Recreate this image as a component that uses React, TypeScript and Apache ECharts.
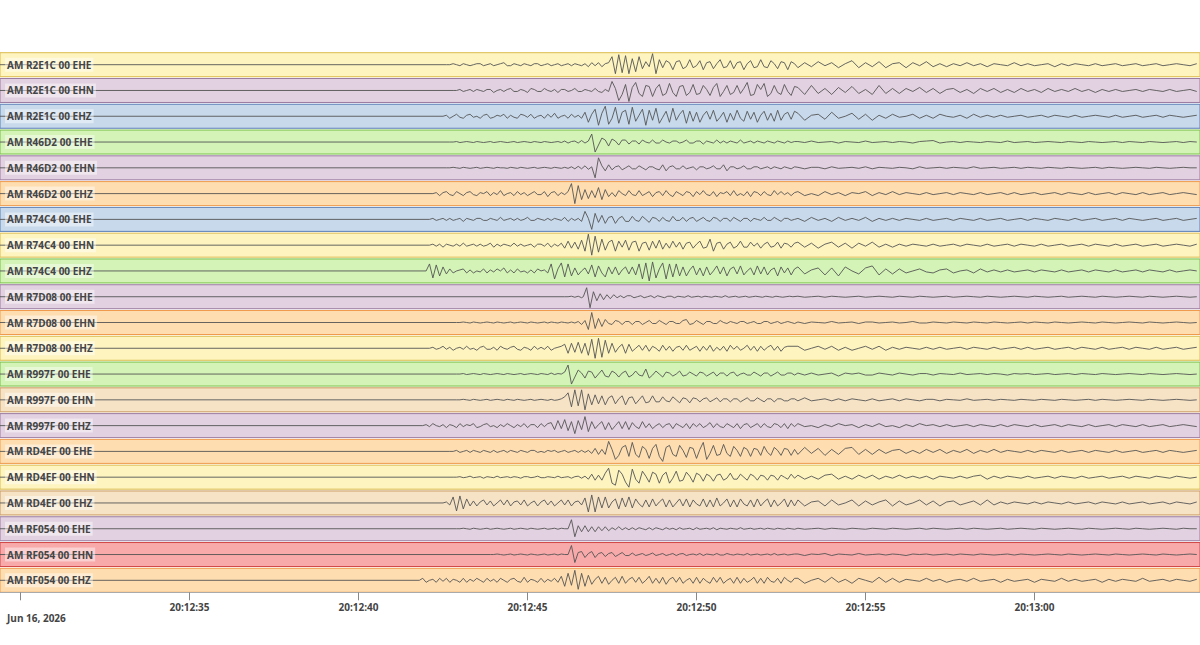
import { useEffect, useRef } from "react";
import * as echarts from "echarts";

// ---------- data ----------
const CHANNELS = [
  "AM R2E1C 00 EHE", "AM R2E1C 00 EHN", "AM R2E1C 00 EHZ",
  "AM R46D2 00 EHE", "AM R46D2 00 EHN", "AM R46D2 00 EHZ",
  "AM R74C4 00 EHE", "AM R74C4 00 EHN", "AM R74C4 00 EHZ",
  "AM R7D08 00 EHE", "AM R7D08 00 EHN", "AM R7D08 00 EHZ",
  "AM R997F 00 EHE", "AM R997F 00 EHN", "AM R997F 00 EHZ",
  "AM RD4EF 00 EHE", "AM RD4EF 00 EHN", "AM RD4EF 00 EHZ",
  "AM RF054 00 EHE", "AM RF054 00 EHN", "AM RF054 00 EHZ",
];

// seconds after 20:12:30
const ONSET = [12.7, 12.9, 12.6, 12.8, 12.7, 12.3, 12.2, 12.2, 12.1, 16.2, 13.0, 12.2, 13.0, 13.0, 12.0, 12.8, 12.9, 12.6, 13.0, 14.0, 11.9];
const ARRIVAL = [17.4, 17.4, 16.7, 16.8, 16.9, 16.2, 16.5, 16.0, 15.7, 16.65, 16.5, 16.1, 16.0, 15.9, 15.7, 16.8, 16.7, 16.7, 16.2, 16.2, 16.0];
const DT = 0.1;
const CODA_START = 23.0;
const CODA_DT = 0.2;

const X_MIN = -0.607;
const X_MAX = 34.896;
const TICK_SECONDS = [0, 5, 10, 15, 20, 25, 30];
const TICK_LABELS = ["", "20:12:35", "20:12:40", "20:12:45", "20:12:50", "20:12:55", "20:13:00"];
const DATE_LABEL = "Jun 16, 2026";

// 1 R2E1C EHE
const PRE_1 = [0,1,0,-1,1,0,-1,0,1,1,-1,0,1,-1,0,1,2,-1,-1,1,0,-1,1,0,-1,1,1,-1,0,1,-1,0,1,-1,0,1,-1,1,0,-1,1,-2,2,-1,2,-2,1];
const MAIN_1 = [2,8,-9,10,-8,9,-9,6,-7,8,-4,3,-2,11,-9,5,-3,4,2,-5,3,4,-4,-2,5,-3,-1,4,-5,2,3,-4,1,5,-3,-2,4,-4,2,3,-5,1,4,-3,-2,5,-2,-3,4,1,-4,3,2,-5,3,1];
const CODA_1 = [-3,2,-2,3,-1,2,-3,1,4,-3,2,-2,3,-3,1,2,-3,2,-1,3,-2,1,-2,1,-1,2,-1,1,-2,1,0,-1,2,-1,1,-1,0,1,-2,1,-1,1,0,-1,1,-1,0,1,-1,0,1,-1,0,1,-1,0,1,0,-1,1];
// 2 R2E1C EHN
const PRE_2 = [0,1,-1,0,1,-1,1,0,-1,1,1,-2,0,1,-1,1,2,-1,-1,1,0,-2,2,1,-1,-1,2,0,-1,1,-2,1,1,-1,0,2,-1,-1,1,0,-1,2,-1,-2,1];
const MAIN_2 = [-1,9,2,-10,-4,6,-11,3,8,-3,-6,5,4,-6,2,6,-5,-3,7,-2,-6,4,5,-5,-2,6,-4,-3,5,1,-5,3,7,-6,-1,5,-4,-2,5,-3,2,8,-5,-4,6,1,7,-6,-3,5,-2,-4,6,-1,-5,4];
const CODA_2 = [3,-4,5,-3,2,-4,3,-2,4,-3,1,-4,5,-3,2,-3,2,-1,3,-2,2,-3,1,2,-2,1,-3,2,-1,2,-2,1,-2,2,-1,1,-2,2,-1,1,-1,2,-1,1,-2,1,-1,1,-1,0,1,-1,1,0,-1,1,-1,0,1,-1];
// 3 R2E1C EHZ
const PRE_3 = [1,-2,0,2,-1,-2,1,2,-1,0,-2,1,2,-2,-1,1,0,2,-2,1,-1,-2,2,1,-1,2,-2,0,1,-2,2,-1,3,-2,0,1,-2,2,-1,1,-2];
const MAIN_3 = [4,-6,2,7,-9,3,10,-8,-2,9,-7,4,6,-8,9,-5,1,7,-9,6,-4,8,-7,-1,5,-6,8,-4,2,6,-7,5,-5,4,-6,1,5,-3,6,-5,-1,4,-6,3,-4,6,-2,-5,5,-3,4,-6,1,5,-4,3,-5,6,-4,2,4,-3,5];
const CODA_3 = [3,-4,1,2,-3,4,-2,0,3,-3,2,-4,1,-2,2,-1,0,2,-2,1,-2,2,0,-1,1,-2,2,-1,1,-1,1,-1,0,1,-1,0,1,-1,1,0,-1,1,-1,0,1,0,-1,1,-1,0,1,-1,0,1,-1,1,0,-1,0,1];
// 4 R46D2 EHE
const PRE_4 = [0,0.5,-0.5,0,0.5,0,-0.5,0.5,0,-0.5,0,0.5,-0.5,0,0.5,0,-0.5,0,0.5,-0.5,0,0.5,0,-0.5,0.5,0,-0.5,0.5,0,-0.5,0,0.5,-0.5,1,-1,0.5,1,-1,1.5,-1];
const MAIN_4 = [1,8,-10,-3,4,2,-4,3,1,-3,2,2,-2,1,1,-2,2,0,-1,2,-1,-1,2,0,-1,1,1,-1,0,2,-1,-1,1,1,-2,1,0,-1,2,-1,1,-1,1,0,-1,2,-1,0,1,-1,1,0,-1,1,0,-1,1,0,-1,1,-0.5,0.5];
const CODA_4 = [0.5,-0.5,1,-0.5,0,0.5,-1,0.5,0,-0.5,1,-0.5,0,0.5,-0.5,0.5,0,-1,0.5,1,1.5,-1,0,0.5,-0.5,0.5,0,-0.5,0.5,0,-0.5,1,-0.5,0,0.5,-0.5,0,0.5,0,-0.5,0.5,0,-0.5,0.5,0,-0.5,0,0.5,-0.5,0.5,0,-0.5,0.5,0,-0.5,0,0.5,-0.5,0.5,0];
// 5 R46D2 EHN
const PRE_5 = [0,0.5,0,-0.5,0.5,0,-0.5,0,0.5,-0.5,0,0.5,0,-0.5,0.5,0,0,-0.5,0.5,0,-0.5,0.5,0,-0.5,0,0.5,-0.5,0,0.5,0,-0.5,0.5,0,-0.5,0.5,-0.5,1,-1,1.5,-1,2,-1.5];
const MAIN_5 = [1,-10,10,2,-3,3,-2,1,2,-2,0,2,-1,-1,2,0,-2,1,1,-1,-2,3,-3,1,2,-1,-1,2,-1,0,1,-2,1,1,-1,0,2,-1,-1,3,-3,1,1,-1,0,2,-1,-1,1,1,-1,0,1,-1,1,0,-1,1,0,-1,1];
const CODA_5 = [0.5,-1,0.5,0.5,-1,1,-0.5,0,0.5,-0.5,1,-1,0.5,0,-0.5,0.5,0,-1,1,-0.5,0,0.5,-0.5,0.5,0,-0.5,1,-0.5,0,0.5,-0.5,0,0.5,-0.5,0.5,0,-0.5,0.5,0,-0.5,0.5,0,-0.5,0,0.5,-0.5,0.5,0,-0.5,0,0.5,0,-0.5,0.5,0,-0.5,0,0.5,0,0];
// 6 R46D2 EHZ
const PRE_6 = [1,-2,1,2,-1,-2,2,0,-2,1,2,-1,-2,1,0,2,-2,1,-1,3,-2,0,1,-2,2,-1,1,-2,0,2,-1,-1,2,-3,1,2,-2,1,-1];
const MAIN_6 = [2,10,-10,8,-6,4,-5,3,-4,6,-6,4,-3,1,-3,3,0,-2,3,-1,-2,3,-2,0,2,-3,1,2,-2,3,-1,-3,2,0,-2,2,1,-3,2,-1,3,-1,-2,2,-3,1,0,2,-2,3,-2,0,-2,2,-3,2,1,-2,2,-1,-2,3,-1,2,-1,1,-2,1];
const CODA_6 = [2,-2,0,-2,2,-1,1,-2,1,0,2,-2,1,-1,2,-1,1,0,-1,1,-1,0,1,-1,1,0,-1,1,-1,0,1,-1,1,-1,0,1,-1,0,1,-1,1,0,-1,1,-1,0,1,-1,1,0,-1,1,-1,0,1,-1,0,1,0,-1];
// 7 R74C4 EHE
const PRE_7 = [1,-1,0,1,-1,1,-1,0,1,-2,1,0,-1,1,1,-1,-1,1,0,-1,2,-1,0,1,-1,1,-1,0,2,-1,-1,1,0,-1,1,-1,1,0,-1,2,-2,1,-1];
const MAIN_7 = [1,-2,8,1,-10,6,-3,4,-4,2,3,-4,1,3,-2,-2,3,-1,-2,3,0,-3,2,1,-2,2,-1,-2,3,-1,-1,2,-2,1,2,-2,0,2,-1,-2,2,1,-2,1,1,-2,2,0,-2,1,1,-2,1,0,-1,2,-1,-1,2,0,-2,1,1,-1,0];
const CODA_7 = [1,-2,2,-1,1,-2,2,-1,1,-1,2,-2,1,-1,1,-1,1,0,-1,1,-1,0,1,-1,1,0,-1,1,-1,0,1,-1,0,1,-1,1,0,-1,1,0,-1,1,-1,0,1,-1,0,1,-1,1,0,-1,0,1,-1,0,1,-1,0,1];
// 8 R74C4 EHN
const PRE_8 = [1,-1,1,-2,1,0,-1,1,-1,2,-1,0,1,-1,1,-1,0,2,-2,1,-1,1,0,-1,2,-1,1,-1,0,1,-2,1,1,-1,2,-2,1,-1];
const MAIN_8 = [2,-3,4,-3,3,-4,5,-6,11,-10,9,-7,6,-5,3,5,-6,4,-2,5,-5,3,4,-6,2,3,-5,4,-3,5,-4,2,-3,4,-2,3,-4,2,3,-3,1,4,-3,-2,6,-6,2,3,-4,1,3,-3,-1,4,-2,-2,3,-1,2,-3,1,3,-2,-1,3,-3,2,1,-2,2];
const CODA_8 = [3,-2,2,-3,1,3,-2,2,-3,2,-1,3,-2,1,-2,1,-1,1,0,-1,1,-1,0,1,-1,1,0,-1,1,-1,0,1,-1,1,0,-1,1,-1,0,1,-1,0,1,-1,1,0,-1,1,-1,0,1,-1,0,1,-1,0,1,0,-1,1];
// 9 R74C4 EHZ
const PRE_9 = [7,-7,6,-5,4,-3,2,-2,0,1,2,-2,1,-2,0,-1,2,-2,1,-1,2,0,3,-2,1,-2,2,-1,0,-2,1,-2,2,0,1,-2];
const MAIN_9 = [7,-8,2,8,-6,7,-5,3,-4,0,3,-3,6,-6,5,-2,-6,4,-3,4,-4,1,4,-3,4,-4,7,-8,8,-10,9,-7,2,8,-8,7,-6,7,-5,4,-5,1,5,-4,3,-5,4,-4,0,5,-3,4,-5,2,4,-3,5,-4,0,3,-4,5,-3,4,-4,1,3,-5,4,-2,3,-4,2];
const CODA_9 = [4,-3,1,3,-4,3,-5,4,0,-3,3,5,-4,2,-3,2,-2,0,2,-1,-2,1,2,-2,0,1,-2,2,-1,1,-1,1,-1,0,1,-1,1,0,-1,1,-1,0,1,-1,1,0,-1,1,-1,0,1,-1,1,0,-1,1,-1,0,1,0];
// 10 R7D08 EHE
const PRE_10 = [0,0.5,-0.5,0.5,-1];
const MAIN_10 = [0,9,-11,5,-4,3,-3,2,-2,2,-1,1,-1,1,1,-1,0,1,-1,0,1,-1,1,0,-1,0.5,0.5,-1,0.5,0,-0.5,1,-0.5,0,0.5,-0.5,0.5,0,-0.5,0.5,0,-0.5,1,-0.5,0,0.5,-0.5,0,0.5,-0.5,0,0.5,0,-0.5,0.5,0,-0.5,0.5,0,-0.5,0,0.5,0];
const CODA_10 = [0.5,-0.5,0,0.5,-0.5,0.5,0,-0.5,0,0.5,-0.5,0,0.5,0,-0.5,0.5,0,-0.5,0.5,0,-0.5,0,0.5,-0.5,0,0.5,0,-0.5,0.5,0,-0.5,0,0.5,0,-0.5,0.5,0,-0.5,0,0.5,-0.5,0,0.5,0,-0.5,0.5,0,-0.5,0,0.5,0,-0.5,0.5,0,-0.5,0,0.5,0,-0.5,0];
// 11 R7D08 EHN
const PRE_11 = [0,0.5,0,-0.5,0.5,0,-0.5,0,0.5,0,-0.5,0.5,0,-0.5,0,0.5,-0.5,0,0.5,0,-0.5,0.5,0,-0.5,0,0.5,-0.5,0.5,0,-0.5,0.5,0,-0.5,0.5,-0.5];
const MAIN_11 = [1,-2,2,-7,10,-6,4,-4,3,-1,-2,2,1,-2,1,1,-2,1,1,-2,0,2,-1,-1,2,0,-2,1,1,-1,-1,2,3,-2,-1,2,0,-2,1,1,-1,-1,2,0,-1,1,0,-1,1,1,-1,0,1,-1,-1,1,1,-1,0,1,-1,0,1,0,-1];
const CODA_11 = [0.5,-1,0.5,0,-0.5,1,-0.5,0,0.5,-1,0.5,0.5,-0.5,0,0.5,-0.5,0,1,-0.5,-0.5,0.5,0,-0.5,0.5,0,-0.5,0.5,0,-0.5,0.5,0,-0.5,0,0.5,-0.5,0.5,0,-0.5,0.5,0,-0.5,0,0.5,0,-0.5,0.5,0,-0.5,0,0.5,0,-0.5,0.5,0,-0.5,0,0.5,0,-0.5,0];
// 12 R7D08 EHZ
const PRE_12 = [1,-1,0,2,-1,1,-2,0,1,-1,2,-1,0,-2,1,2,-1,-1,1,-2,2,0,-1,1,2,-1,-2,1,0,-2,2,-1,1,-1,2,-2,0,1,2];
const MAIN_12 = [4,-5,5,-4,6,-5,5,-7,9,-10,10,-9,8,-5,5,-4,1,4,-5,4,-3,0,3,-2,3,-3,2,0,-3,3,-2,2,-3,1,2,-2,3,-2,0,2,-3,2,-2,3,-3,1,-2,2,-3,3,-1,2,-2,0,3,-2,2,-3,2,-2,1,3,-2,2,-3,1,2];
const CODA_12 = [2,-2,0,2,-1,2,-2,1,-2,0,2,-1,2,-2,1,-1,1,0,-1,1,-1,1,-1,0,1,-1,1,0,-1,1,-1,0,1,-1,1,-1,0,1,-1,0,1,-1,1,0,-1,1,-1,0,1,-1,1,0,-1,1,-1,0,1,-1,0,1];
// 13 R997F EHE
const PRE_13 = [0,0.5,-0.5,0,0.5,0,-0.5,0.5,0,-0.5,0,0.5,0,-0.5,0.5,0,-0.5,0,0.5,-0.5,0,0.5,0,-0.5,0.5,0,-0.5,1,-0.5,0.5];
const MAIN_13 = [0,2,9,-10,-3,4,1,-4,3,2,-4,0,4,-2,-3,3,1,-3,1,3,-3,-1,3,-1,-2,5,-4,-1,3,0,-3,2,1,-2,0,3,-2,-1,2,0,-2,2,1,-2,0,2,-2,1,1,-2,1,2,-2,0,1,-1,-1,2,0,-2,1,1,-2,0,2,-1,-1,1,1,-1];
const CODA_13 = [1,-1,1,-1,0,1,-2,1,0,1,-1,-1,1,0,-1,1,0,-1,0.5,0.5,-1,0.5,0,-0.5,1,-0.5,0,0.5,-0.5,0.5,0,-1,0.5,0,0.5,-0.5,0,0.5,-0.5,0,0.5,-0.5,0.5,0,-0.5,0.5,0,-0.5,0,0.5,0,-0.5,0.5,0,-0.5,0,0.5,0,-0.5,0];
// 14 R997F EHN
const PRE_14 = [0,0.5,0,-0.5,0.5,0,-0.5,0,0.5,-0.5,0,0.5,0,-0.5,0.5,0,-0.5,0.5,0,-0.5,0,0.5,-0.5,0,0.5,0,-0.5,0.5,-0.5];
const MAIN_14 = [0,1,3,7,-7,10,-6,10,-10,6,-5,5,-4,4,-5,2,4,-4,1,4,-5,2,3,-4,0,4,-3,-2,4,-2,-2,3,-1,-2,3,0,-3,2,1,-3,2,1,-2,1,2,-2,0,2,-2,1,1,-2,1,1,-2,0,2,-1,-1,2,0,-2,1,1,-2,1,1,-1,-1,1,1];
const CODA_14 = [-1,2,-1,0,1,-1,1,-1,1,0,-1,1,-1,0,1,-1,1,0,-1,0.5,0.5,-1,0.5,0,-0.5,1,-0.5,0,0.5,-0.5,0.5,0,-0.5,0.5,0,-0.5,0.5,0,-0.5,0.5,0,-0.5,0,0.5,-0.5,0.5,0,-0.5,0,0.5,0,-0.5,0.5,0,-0.5,0,0.5,0,-0.5,0];
// 15 R997F EHZ
const PRE_15 = [1,-1,2,0,-1,1,-2,1,0,-2,2,-1,1,0,2,-2,-1,1,2,-1,0,-2,1,-1,2,0,-2,1,-1,2,-2,1,1,-2,2,-1,2];
const MAIN_15 = [3,-4,5,-3,6,-5,4,-8,5,-4,9,-6,4,-3,1,4,-4,3,-4,0,4,-3,4,-4,3,-1,-3,4,-2,2,-3,0,2,-2,1,2,-3,2,0,-2,2,-3,2,-1,2,-2,0,3,-2,2,-1,-2,2,0,-2,2,-3,1,2,-2,0,2,-2,2,-1,-2,2,1,-2,2,-3,2,-1];
const CODA_15 = [2,-1,0,-2,1,-1,2,0,1,-2,1,-1,2,-1,0,-2,1,-1,2,0,1,-1,1,-1,0,1,-1,1,0,-1,1,-1,1,0,-1,1,-1,0,1,-1,1,0,-1,1,-1,0,1,-1,1,0,-1,1,-1,0,1,-1,0,1,0,-1];
// 16 RD4EF EHE
const PRE_16 = [0,1,-1,0,1,-1,1,0,-1,1,0,-1,1,-1,0,1,-1,1,0,-1,1,0,-1,1,1,-1,0,-1,1,0,1,-1,0,1,-1,0,1,-1,1,-1];
const MAIN_16 = [1,-2,3,-3,2,-3,10,2,-8,-4,4,6,-5,9,-3,-6,5,2,-7,3,7,-5,-10,4,6,-3,-5,6,1,-6,4,3,-7,2,9,-8,-2,6,-4,-3,7,-2,-5,5,1,-5,4,2,-5,3,2,-4,5,-1,-4,4,1,-4,3,2,-4,2];
const CODA_16 = [-3,4,-2,3,-4,2,-3,3,4,-3,2,-3,2,-2,1,2,-2,1,-2,2,-1,2,-2,1,-1,2,-2,1,-1,2,-1,1,0,-1,1,-1,1,0,-1,1,-1,0,1,-1,1,0,-1,1,-1,0,1,-1,0,1,-1,1,0,-1,0,1];
// 17 RD4EF EHN
const PRE_17 = [0,0.5,-0.5,0,1,-0.5,0,0.5,-1,0.5,0,-0.5,1,-0.5,0,0.5,-0.5,0.5,0,-1,0.5,0.5,-0.5,0,1,-0.5,-0.5,0.5,0,-0.5,1,-0.5,0,0.5,-1,0.5,1,-1];
const MAIN_17 = [1,-2,3,-3,2,-3,4,9,-6,-8,7,3,-5,-10,8,-2,-6,6,1,-5,5,3,-6,2,5,-6,-1,6,-4,-3,5,1,-5,4,2,-4,3,1,-4,2,3,-3,-1,4,-2,-2,3,0,-3,3,1,-3,2,1,-3,2,1,-3,2,0,-2,3,-1];
const CODA_17 = [2,-2,1,-2,2,3,-2,1,-2,2,-1,2,-2,1,-1,2,-1,1,-1,1,-2,1,0,-1,1,-1,1,2,-2,1,-1,1,0,-1,1,-1,0,1,-1,1,0,-1,1,-1,0,1,-1,0,1,-1,1,0,-1,1,0,-1,1,0,-1,0];
// 18 RD4EF EHZ
const PRE_18 = [1,-2,6,-8,7,-6,4,-3,2,-3,1,3,-2,2,-3,0,3,-2,3,-3,1,2,-2,3,-3,0,2,-3,1,3,-2,2,-3,0,3,-2,3,-3,1,2,-2];
const MAIN_18 = [5,-9,8,-9,6,-5,6,-5,1,4,-6,5,-4,6,-5,4,-1,-4,3,-4,4,-3,1,4,-4,3,-4,0,4,-3,4,-4,3,-1,-3,4,-4,3,-4,5,-3,0,4,-4,3,-4,4,-1,-3,3,-4,4,-3,1,4,-4,3,-3,0,4,-4,3,-3];
const CODA_18 = [3,-3,1,2,-3,3,-2,0,3,-3,2,-2,1,3,-3,2,-2,0,3,-2,2,-3,1,2,-2,0,2,-2,3,-2,1,-1,1,0,-1,1,-1,1,0,-1,1,-1,0,1,-1,1,0,-1,1,-1,0,1,-1,0,1,-1,1,0,-1,1];
// 19 RF054 EHE
const PRE_19 = [0,0.5,0,-0.5,0.5,0,-0.5,0,0.5,-0.5,0,0.5,0,-0.5,0,0.5,-0.5,0,0.5,0,-0.5,0.5,0,-0.5,0,0.5,-0.5,0,0.5,-0.5,0.5,0];
const MAIN_19 = [0,9,-8,3,-3,3,-3,2,-3,2,-2,2,-2,1,-1,2,-1,1,-1,1,-1,1,0,-1,1,-1,1,0,-1,1,-0.5,0.5,-1,1,-0.5,0,0.5,-1,1,-0.5,0,0.5,-0.5,1,-1,0.5,0,-0.5,0.5,0,-0.5,1,-0.5,0,0.5,-0.5,0,0.5,-0.5,0.5,0,-0.5,0.5,0,-0.5,0.5,0,-0.5];
const CODA_19 = [0.5,-0.5,0,0.5,-0.5,0.5,0,-0.5,0.5,0,-0.5,0.5,0,-0.5,0.5,0,-0.5,0,0.5,-0.5,0.5,0,-0.5,0,0.5,-0.5,0.5,0,-0.5,0,0.5,-0.5,0,0.5,0,-0.5,0.5,0,-0.5,0,0.5,0,-0.5,0.5,0,-0.5,0,0.5,0,-0.5,0.5,0,-0.5,0,0.5,0,-0.5,0.5,0,0];
// 20 RF054 EHN
const PRE_20 = [0,0.5,0,-0.5,0,0.5,-0.5,0,0.5,0,-0.5,0.5,0,-0.5,0,0.5,-0.5,0,0.5,-0.5,0.5,0];
const MAIN_20 = [0,9,-8,2,3,-3,1,3,-3,1,2,-2,1,2,-2,0,2,-1,-1,1.5,-1,0,1,-1,0,1.5,-1,0,1,-1,0,1,-1,0.5,1,-1,0,0.5,-0.5,1,-1,0.5,0,-0.5,1,-0.5,-0.5,1,0,-0.5,0.5,0,-0.5,1,-0.5,0,0.5,-0.5,0,0.5,-0.5,1,-0.5,0,0.5,-0.5,0,0.5];
const CODA_20 = [0.5,-1,0.5,0,1,-1,0.5,0,-0.5,1,-0.5,0,0.5,-0.5,0.5,0,-1,0.5,0,0.5,-0.5,0,0.5,-0.5,0.5,0,-0.5,0.5,0,-0.5,0,0.5,-0.5,0.5,0,-0.5,0,0.5,0,-0.5,0.5,0,-0.5,0,0.5,0,-0.5,0.5,0,-0.5,0,0.5,0,-0.5,0.5,0,-0.5,0,0.5,0];
// 21 RF054 EHZ
const PRE_21 = [2,-2,0,1,-2,2,-1,2,-2,1,0,-2,2,-2,1,-1,2,0,-2,2,-1,1,-2,2,0,-2,1,2,-1,-2,3,-2,1,0,-2,2,-2,1,-1,2,-2];
const MAIN_21 = [4,-6,7,-5,10,-9,7,-6,5,-4,1,4,-3,3,-4,0,3,-3,4,-3,1,3,-2,3,-3,0,4,-3,2,-3,3,-4,1,3,-2,3,-3,0,2,-3,3,-3,2,-1,-3,3,-2,3,-3,0,2,-3,3,-3,2,-2,0,3,-3,2,-3,3,-1,-2,2,-3,3,0,-2,2];
const CODA_21 = [2,-3,0,2,-2,3,-2,1,-3,2,0,-2,3,-2,2,-2,1,0,-1,2,-1,1,-2,0,1,-1,2,-1,0,1,-2,1,-1,0,1,-2,1,0,-1,2,-1,1,-1,0,1,-2,1,-1,1,0,-1,2,-1,0,1,-1,1,0,-1,1];

const PRE = [PRE_1, PRE_2, PRE_3, PRE_4, PRE_5, PRE_6, PRE_7, PRE_8, PRE_9, PRE_10, PRE_11, PRE_12, PRE_13, PRE_14, PRE_15, PRE_16, PRE_17, PRE_18, PRE_19, PRE_20, PRE_21];
const MAIN = [MAIN_1, MAIN_2, MAIN_3, MAIN_4, MAIN_5, MAIN_6, MAIN_7, MAIN_8, MAIN_9, MAIN_10, MAIN_11, MAIN_12, MAIN_13, MAIN_14, MAIN_15, MAIN_16, MAIN_17, MAIN_18, MAIN_19, MAIN_20, MAIN_21];
const CODA = [CODA_1, CODA_2, CODA_3, CODA_4, CODA_5, CODA_6, CODA_7, CODA_8, CODA_9, CODA_10, CODA_11, CODA_12, CODA_13, CODA_14, CODA_15, CODA_16, CODA_17, CODA_18, CODA_19, CODA_20, CODA_21];

// ---------- styles ----------
const PALETTE: Record<string, [string, string]> = {
  yellow: ["#fdf4c0", "#dcbc4c"],
  purple: ["#e2d1e0", "#9b7ba0"],
  blue: ["#c7d9eb", "#5b7fb6"],
  green: ["#d3f3b7", "#78c046"],
  orange: ["#fedeb1", "#ef9a4c"],
  beige: ["#f6e3c6", "#c9975a"],
  red: ["#f8a9a9", "#d24848"],
};
const BAND_KIND = ["yellow", "purple", "blue", "green", "purple", "orange", "blue", "yellow", "green", "purple", "orange", "yellow", "green", "beige", "purple", "orange", "yellow", "beige", "purple", "red", "orange"];
const BAND_TOP0 = 52.7;
const BAND_STEP = 25.78;
const BAND_H = 24;
const FONT = '"Open Sans", "DejaVu Sans", sans-serif';

function buildTrace(k: number): number[][] {
  const pts: number[][] = [[X_MIN, 0], [ONSET[k] - DT, 0]];
  PRE[k].forEach((v, i) => {
    const t = ONSET[k] + i * DT;
    if (t < ARRIVAL[k] - 1e-6) pts.push([t, v]);
  });
  MAIN[k].forEach((v, i) => {
    const t = ARRIVAL[k] + i * DT;
    if (t < CODA_START - 1e-6) pts.push([t, v]);
  });
  CODA[k].forEach((v, i) => pts.push([CODA_START + i * CODA_DT, v]));
  return pts;
}

export default function App() {
  const ref = useRef<HTMLDivElement>(null);
  useEffect(() => {
    if (!ref.current) return;
    const chart = echarts.init(ref.current, undefined, { renderer: "svg" });
    const n = CHANNELS.length;
    const grids: any[] = [];
    const xAxes: any[] = [];
    const yAxes: any[] = [];
    const series: any[] = [];
    const titles: any[] = [];
    for (let k = 0; k < n; k++) {
      const top = BAND_TOP0 + k * BAND_STEP;
      const [fill, border] = PALETTE[BAND_KIND[k]];
      grids.push({
        left: 0, right: 0, top, height: BAND_H,
        show: true, backgroundColor: fill, borderColor: border, borderWidth: 1,
        containLabel: false, outerBoundsMode: "none",
      });
      const last = k === n - 1;
      xAxes.push({
        type: "value", gridIndex: k, min: X_MIN, max: X_MAX,
        show: last, position: "bottom",
        splitLine: { show: false },
        axisLine: { show: last, onZero: false, lineStyle: { color: "#aaa", width: 1 } },
        axisTick: { show: last, inside: false, customValues: TICK_SECONDS, length: 8, lineStyle: { color: "#888" } },
        axisLabel: {
          show: last, customValues: TICK_SECONDS, margin: 10,
          formatter: (v: number) => {
            const idx = TICK_SECONDS.findIndex((s) => Math.abs(s - v) < 1e-6);
            return idx >= 0 ? TICK_LABELS[idx] : "";
          },
          color: "#444", fontSize: 10, fontWeight: "bold", fontFamily: FONT,
        },
      });
      yAxes.push({ type: "value", gridIndex: k, min: -12, max: 12, show: false, splitLine: { show: false } });
      series.push({
        type: "line", xAxisIndex: k, yAxisIndex: k, data: buildTrace(k),
        showSymbol: false, symbol: "none", silent: true,
        lineStyle: { color: "#555", width: 0.9 },
      });
      titles.push({
        text: CHANNELS[k], left: 5, top: top + BAND_H / 2 - 7,
        padding: [1, 2], backgroundColor: "rgba(255,255,255,0.45)",
        textStyle: { color: "#444", fontSize: 10, fontWeight: "bold", fontFamily: FONT, lineHeight: 12 },
      });
    }
    chart.setOption({
      animation: false,
      backgroundColor: "#ffffff",
      title: titles,
      grid: grids,
      xAxis: xAxes,
      yAxis: yAxes,
      series,
      graphic: [
        {
          type: "text", left: 7, top: 613,
          style: { text: DATE_LABEL, fill: "#444", font: `bold 10px ${FONT}` },
        },
      ],
    });
    return () => chart.dispose();
  }, []);
  return (
    <div
      ref={ref}
      style={{ position: "fixed", left: 0, top: 0, width: 1200, height: 645, background: "#fff" }}
    />
  );
}
